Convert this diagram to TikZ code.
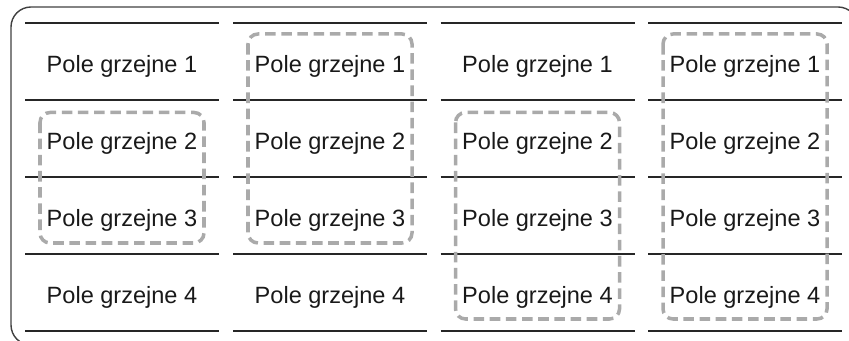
\documentclass[tikz,border=0pt]{standalone}
\usepackage{fontspec}
\setmainfont{Liberation Sans}
\definecolor{zonegray}{RGB}{170,170,170}
\tikzset{
	field/.style={font=\fontsize{13.4}{15}\selectfont, text=black!90},
	sep/.style={line width=1pt, black!85},
	zone/.style={zonegray, line width=2pt, rounded corners=0.2cm, dash pattern=on 6pt off 3.2pt},
}
\begin{document}
\begin{tikzpicture}
		\useasboundingbox (0,0) rectangle (16.98,6.82);
		\clip (0,0) rectangle (16.98,6.82);
		
		% Outer frame
		\draw[black!75, line width=0.8pt, rounded corners=0.4cm] (0.22,-0.08) rectangle (17.16,6.68);
		
		% Separators
		\draw[sep] (0.5,6.36) -- (4.38,6.36) (0.5,4.82) -- (4.38,4.82) (0.5,3.28) -- (4.38,3.28) (0.5,1.74) -- (4.38,1.74) (0.5,0.2) -- (4.38,0.2);
		\draw[sep] (4.66,6.36) -- (8.54,6.36) (4.66,4.82) -- (8.54,4.82) (4.66,3.28) -- (8.54,3.28) (4.66,1.74) -- (8.54,1.74) (4.66,0.2) -- (8.54,0.2);
		\draw[sep] (8.81,6.36) -- (12.69,6.36) (8.81,4.82) -- (12.69,4.82) (8.81,3.28) -- (12.69,3.28) (8.81,1.74) -- (12.69,1.74) (8.81,0.2) -- (12.69,0.2);
		\draw[sep] (12.96,6.36) -- (16.84,6.36) (12.96,4.82) -- (16.84,4.82) (12.96,3.28) -- (16.84,3.28) (12.96,1.74) -- (16.84,1.74) (12.96,0.2) -- (16.84,0.2);
		
		% Fields, column 1
		\node[field] (a1) at (2.44,5.49) {Pole grzejne 1};
		\node[field] (a2) at (2.44,3.95) {Pole grzejne 2};
		\node[field] (a3) at (2.44,2.41) {Pole grzejne 3};
		\node[field] (a4) at (2.44,0.87) {Pole grzejne 4};
		
		% Fields, column 2
		\node[field] (b1) at (6.6,5.49) {Pole grzejne 1};
		\node[field] (b2) at (6.6,3.95) {Pole grzejne 2};
		\node[field] (b3) at (6.6,2.41) {Pole grzejne 3};
		\node[field] (b4) at (6.6,0.87) {Pole grzejne 4};
		
		% Fields, column 3
		\node[field] (c1) at (10.75,5.49) {Pole grzejne 1};
		\node[field] (c2) at (10.75,3.95) {Pole grzejne 2};
		\node[field] (c3) at (10.75,2.41) {Pole grzejne 3};
		\node[field] (c4) at (10.75,0.87) {Pole grzejne 4};
		
		% Fields, column 4
		\node[field] (d1) at (14.9,5.49) {Pole grzejne 1};
		\node[field] (d2) at (14.9,3.95) {Pole grzejne 2};
		\node[field] (d3) at (14.9,2.41) {Pole grzejne 3};
		\node[field] (d4) at (14.9,0.87) {Pole grzejne 4};
		
		% Heated zones
		\draw[zone] (0.8,4.57) rectangle (4.08,1.96);
		\draw[zone] (4.96,6.14) rectangle (8.24,1.96);
		\draw[zone] (9.11,4.57) rectangle (12.39,0.44);
		\draw[zone] (13.26,6.14) rectangle (16.54,0.44);
	\end{tikzpicture}
\end{document}
